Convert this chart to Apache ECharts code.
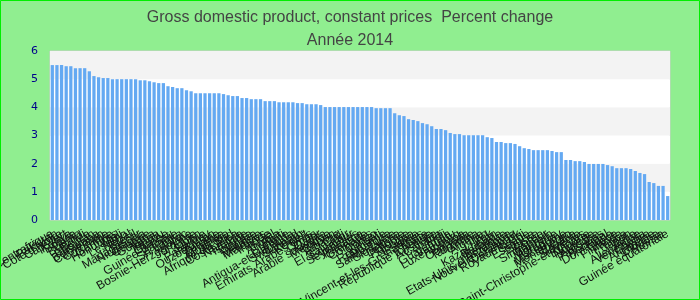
<!DOCTYPE html>
<html><head><meta charset="utf-8">
<script src="https://cdn.jsdelivr.net/npm/echarts@6/dist/echarts.min.js"></script>
<style>html,body{margin:0;padding:0;background:#90ee90}#c{width:700px;height:300px}</style>
</head><body><div id="c"></div>
<script>
const titleLine1 = "Gross domestic product, constant prices  Percent change";
const titleLine2 = "Année 2014";
const countries = [
"Centrafrique","Pakistan","Côte d'Ivoire","Cap-Vert","Kenya","Bolivie","Bénin","Burundi","Belize","Bhoutan",
"Botswana","Cameroun","Colombie","Gambie","Honduras","Mali","Lesotho","Népal","Brésil","Madagascar",
"Nicaragua","Géorgie","Guyana","Tonga","Pérou","Guinée","Guinée-Bissau","Zambie","Sri Lanka","Maroc",
"Bosnie-Herzégovine","Jordanie","Liban","Serbie","Paraguay","Ouzbékistan","Turquie","Arménie","Moldavie","Afrique du Sud",
"Costa Rica","Namibie","Islande","Egypte","Tunisie","Malaisie","Maldives","Irlande","Israël","Angola",
"Haïti","Lituanie","Antigua-et-Barbuda","Swaziland","Surinam","Koweït","Emirats Arabes Unis","Oman","Qatar","Arabie saoudite",
"Mexique","Gabon","Albanie","Chili","El Salvador","Equateur","Seychelles","Panama","Grenade","Comores",
"Congo","Kiribati","Roumanie","Jamaïque","Sainte-Lucie","Slovaquie","Lettonie","Pologne","Hongrie","Estonie",
"Saint-Vincent-et-les-Grenadines","Malte","République tchèque","Australie","Canada","Fidji","Guatemala","Vanuatu","Luxembourg","Samoa",
"Ouganda","Tanzanie","Ghana","Algérie","Iran","Irak","Kazakhstan","Barbade","Belgique","Etats-Unis d'Amérique",
"Nouvelle-Zélande","Danemark","Royaume-Uni","Suède","Espagne","Suisse","Corée","Singapour","Bahreïn","Mongolie",
"Uruguay","Macédoine","Monténégro","Croatie","Slovénie","Saint-Christophe-et-Niévès","Bulgarie","Norvège","Autriche","Pays-Bas",
"Portugal","Dominique","Grèce","Finlande","France","Japon","Italie","Allemagne","Venezuela","Chypre",
"Argentine","Ukraine","Russie","Guinée équatoriale"
];
const growth = [
5.50,5.50,5.50,5.46,5.46,5.39,5.39,5.39,5.28,5.11,
5.07,5.04,5.04,5.00,5.00,5.00,5.00,5.00,5.00,4.96,
4.96,4.93,4.89,4.86,4.86,4.75,4.72,4.68,4.68,4.61,
4.57,4.50,4.50,4.50,4.50,4.50,4.50,4.47,4.43,4.40,
4.40,4.33,4.33,4.29,4.29,4.29,4.22,4.22,4.22,4.18,
4.18,4.18,4.18,4.15,4.15,4.11,4.11,4.11,4.08,4.01,
4.01,4.01,4.01,4.01,4.01,4.01,4.01,4.01,4.01,4.01,
3.97,3.97,3.97,3.97,3.79,3.72,3.69,3.58,3.55,3.51,
3.44,3.40,3.33,3.23,3.23,3.19,3.09,3.05,3.05,3.01,
3.01,3.01,3.01,3.01,2.94,2.91,2.77,2.77,2.73,2.73,
2.70,2.62,2.55,2.52,2.48,2.48,2.48,2.48,2.45,2.41,
2.41,2.13,2.13,2.09,2.09,2.06,1.99,1.99,1.99,1.99,
1.95,1.91,1.84,1.84,1.84,1.81,1.74,1.67,1.63,1.35,
1.31,1.21,1.21,0.85
];
const yTicks = [0,1,2,3,4,5,6];

const chart = echarts.init(document.getElementById('c'), null, {renderer:'canvas'});
chart.setOption({
  backgroundColor: '#90ee90',
  animation: false,
  title: {
    text: titleLine1 + '\n' + titleLine2,
    left: 'center', top: 1,
    textStyle: {fontFamily: 'Liberation Sans, Arial', fontSize: 16, fontWeight: 'normal', color: '#444', lineHeight: 23}
  },
  graphic: [{
    type: 'rect', silent: true, z: 100,
    shape: {x: 0.5, y: 0.5, width: 699, height: 299},
    style: {fill: 'none', stroke: '#00ee00', lineWidth: 1}
  }],
  grid: {left: 50, right: 30, top: 51, bottom: 80, containLabel: false, outerBoundsMode: 'none',
         show: true, borderColor: '#cccccc', borderWidth: 1, backgroundColor: '#ffffff'},
  xAxis: {
    type: 'category', data: countries,
    axisLine: {show: false}, axisTick: {show: false},
    axisLabel: {interval: 0, rotate: 30, margin: 13, fontSize: 12, fontFamily: 'Liberation Sans, Arial', color: '#111111'}
  },
  yAxis: {
    type: 'value', min: yTicks[0], max: yTicks[yTicks.length-1], interval: 1,
    axisLine: {show: false}, axisTick: {show: false},
    splitLine: {show: false},
    splitArea: {show: true, areaStyle: {color: ['#ffffff', '#f3f3f3']}},
    axisLabel: {margin: 12, fontSize: 11, fontFamily: 'DejaVu Sans', color: '#00008b'}
  },
  series: [{
    type: 'bar', data: growth, barCategoryGap: '30%',
    itemStyle: {color: '#64a9f2'}
  }]
});
</script></body></html>
